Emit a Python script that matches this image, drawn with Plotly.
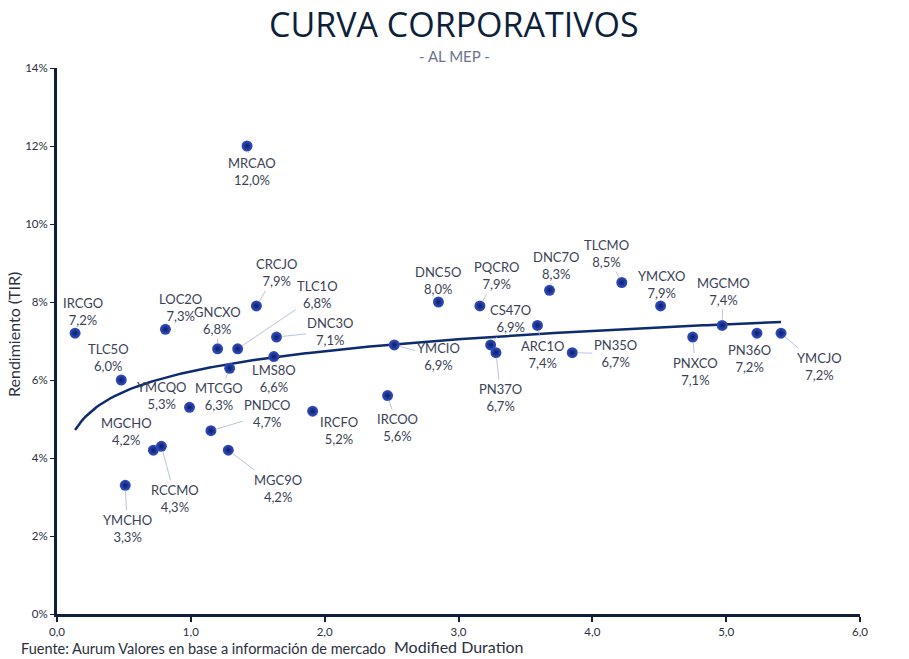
import numpy as np
import plotly.graph_objects as go

# ---------------- data ----------------
bonos = ["IRCGO", "TLC5O", "YMCHO", "MGCHO", "RCCMO", "LOC2O", "YMCQO", "PNDCO",
         "GNCXO", "MGC9O", "MTCGO", "TLC1O", "MRCAO", "CRCJO", "LMS8O", "DNC3O",
         "IRCFO", "IRCOO", "YMCIO", "DNC5O", "PQCRO", "CS47O", "PN37O", "ARC1O",
         "DNC7O", "PN35O", "TLCMO", "YMCXO", "PNXCO", "MGCMO", "PN36O", "YMCJO"]
duration = [0.135, 0.48, 0.51, 0.72, 0.78, 0.81, 0.99, 1.15,
            1.20, 1.28, 1.29, 1.35, 1.42, 1.49, 1.62, 1.64,
            1.91, 2.47, 2.52, 2.85, 3.16, 3.24, 3.28, 3.59,
            3.68, 3.85, 4.22, 4.51, 4.75, 4.97, 5.23, 5.41]
tir = [7.2, 6.0, 3.3, 4.2, 4.3, 7.3, 5.3, 4.7,
       6.8, 4.2, 6.3, 6.8, 12.0, 7.9, 6.6, 7.1,
       5.2, 5.6, 6.9, 8.0, 7.9, 6.9, 6.7, 7.4,
       8.3, 6.7, 8.5, 7.9, 7.1, 7.4, 7.2, 7.2]
x_ticks = [0, 1, 2, 3, 4, 5, 6]
y_ticks = [0, 0.02, 0.04, 0.06, 0.08, 0.10, 0.12, 0.14]
# logarithmic trend (y = a*ln(x) + b), in fraction units
trend_a = 0.0075
trend_b = 0.0622

# label offsets in pixels (layout)
offsets = {
    "IRCGO": (8, -22), "TLC5O": (-13, -23), "YMCHO": (2, 43), "MGCHO": (-27, -19),
    "RCCMO": (14, 52), "LOC2O": (15, -22), "YMCQO": (-28, -12), "PNDCO": (57, -17),
    "GNCXO": (0, -28), "MGC9O": (50, 38), "MTCGO": (-11, 28), "TLC1O": (80, -54),
    "MRCAO": (5, 25), "CRCJO": (20, -33), "LMS8O": (0, 22), "DNC3O": (54, -6),
    "IRCFO": (26, 19), "IRCOO": (10, 32), "YMCIO": (44, 12), "DNC5O": (0, -22),
    "PQCRO": (17, -30), "CS47O": (20, -26), "PN37O": (5, 45), "ARC1O": (6, 29),
    "DNC7O": (6, -25), "PN35O": (43, 1), "TLCMO": (-15, -29), "YMCXO": (1, -21),
    "PNXCO": (3, 34), "MGCMO": (1, -34), "PN36O": (-7, 25), "YMCJO": (38, 33),
}

W, H = 909, 659
ML, MR, MT, MB = 57, 49, 68, 45
PW, PH = W - ML - MR, H - MT - MB

def px_to_paper_x(px):
    return (px - ML) / PW

def px_to_paper_y(py):
    return (H - MB - py) / PH

tir_frac = [v / 100 for v in tir]
FONT = "Lato, sans-serif"
TXT = "#2a3040"

fig = go.Figure()

xt = np.linspace(min(duration), max(duration), 200)
fig.add_trace(go.Scatter(
    x=xt, y=trend_a * np.log(xt) + trend_b, mode="lines",
    line=dict(color="#0d2b6e", width=2.5), hoverinfo="skip", showlegend=False))

fig.add_trace(go.Scatter(
    x=duration, y=tir_frac, mode="markers", text=bonos,
    marker=dict(size=11, color="#3552c4",
                gradient=dict(type="radial", color="#0a1c66"),
                line=dict(width=0)),
    showlegend=False))

label_font = dict(family=FONT, size=13, color="#3a4256")
for n, x, y, v in zip(bonos, duration, tir_frac, tir):
    ax, ay = offsets[n]
    txt = f"{n}<br>{v:.1f}%".replace(".", ",")
    fig.add_annotation(
        x=x, y=y, xref="x", yref="y", text=txt, showarrow=True,
        ax=ax, ay=ay, arrowhead=0, arrowwidth=0.8, arrowcolor="#a9b4d8",
        standoff=5, font=label_font, align="center")

# page texts
fig.add_annotation(x=px_to_paper_x(454), y=px_to_paper_y(24), xref="paper", yref="paper",
                   showarrow=False, xanchor="center", yanchor="middle",
                   text="CURVA CORPORATIVOS",
                   font=dict(family="Open Sans, sans-serif", size=34, color="#0d1f3c"))
fig.add_annotation(x=px_to_paper_x(454), y=px_to_paper_y(56), xref="paper", yref="paper",
                   showarrow=False, xanchor="center", yanchor="middle",
                   text="- AL MEP -", font=dict(family=FONT, size=15, color="#6b7394"))
fig.add_annotation(x=px_to_paper_x(19), y=px_to_paper_y(648), xref="paper", yref="paper",
                   showarrow=False, xanchor="left", yanchor="middle",
                   text="Fuente: Aurum Valores en base a información de mercado",
                   font=dict(family=FONT, size=14.5, color=TXT))
fig.add_annotation(x=px_to_paper_x(459), y=px_to_paper_y(646), xref="paper", yref="paper",
                   showarrow=False, xanchor="center", yanchor="middle",
                   text="Modified Duration", font=dict(family=FONT, size=16, color=TXT))
fig.add_annotation(x=px_to_paper_x(13), y=px_to_paper_y(335), xref="paper", yref="paper",
                   showarrow=False, xanchor="center", yanchor="middle", textangle=-90,
                   text="Rendimiento (TIR)", font=dict(family=FONT, size=16, color=TXT))

fig.update_layout(
    width=W, height=H,
    margin=dict(l=ML, r=MR, t=MT, b=MB),
    paper_bgcolor="white", plot_bgcolor="white",
    separators=",.",
    xaxis=dict(range=[0, 6], tickvals=x_ticks, tickformat=".1f", automargin=False,
               showline=True, linecolor="#0d1f3c", linewidth=3,
               ticks="outside", ticklen=5, tickwidth=1.5, tickcolor="#0d1f3c",
               showgrid=False, zeroline=False,
               tickfont=dict(family=FONT, size=11.5, color=TXT)),
    yaxis=dict(range=[0, 0.14], tickvals=y_ticks, tickformat=".0%", automargin=False,
               showline=True, linecolor="#0d1f3c", linewidth=3,
               ticks="outside", ticklen=4, tickwidth=1, tickcolor="#0d1f3c",
               showgrid=False, zeroline=False,
               tickfont=dict(family=FONT, size=11.5, color=TXT)),
)

fig.write_html("out.html")
